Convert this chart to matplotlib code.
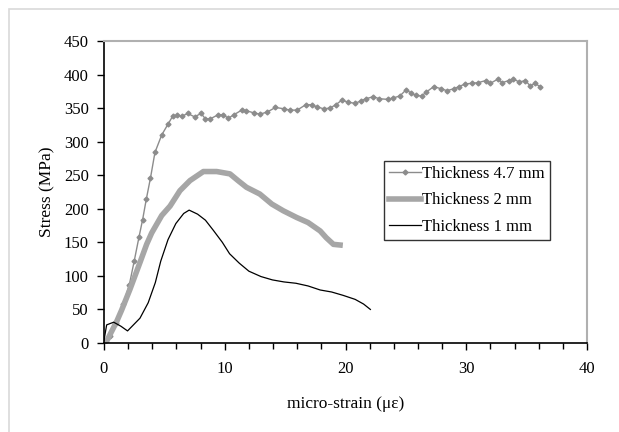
import numpy as np
import matplotlib
matplotlib.use('Agg')
import matplotlib.pyplot as plt
from matplotlib.patches import Rectangle
from matplotlib.ticker import MultipleLocator

plt.rcParams['font.family'] = ['Liberation Serif', 'DejaVu Serif']

# Thickness 4.7 mm
x47 = [0, 0.5, 1.0, 1.6, 2.1, 2.5, 2.9, 3.2, 3.5, 3.85, 4.22, 4.78, 5.33, 5.69,
       6.05, 6.46, 6.93, 7.5, 8.04, 8.4, 8.8, 9.44, 9.86, 10.3, 10.75, 11.4, 11.8,
       12.4, 12.9, 13.5, 14.2, 14.9, 15.4, 16.0, 16.7, 17.2, 17.6, 18.2, 18.7,
       19.2, 19.7, 20.2, 20.8, 21.3, 21.7, 22.3, 22.8, 23.5, 23.9, 24.5, 25.0,
       25.4, 25.8, 26.3, 26.7, 27.3, 27.9, 28.4, 29.0, 29.4, 29.9, 30.5, 31.0,
       31.6, 32.0, 32.6, 33.0, 33.5, 33.9, 34.4, 34.9, 35.3, 35.7, 36.1]
y47 = [0, 10, 30, 58, 87, 122, 158, 184, 214, 246, 284, 310, 327, 338,
       339, 338, 342, 337, 342, 334, 334, 340, 340, 335, 340, 347, 346,
       343, 341, 344, 351, 349, 347, 347, 355, 355, 352, 349, 350,
       355, 362, 359, 357, 361, 364, 367, 364, 363, 365, 368, 377,
       373, 369, 368, 374, 382, 379, 376, 379, 382, 386, 387, 388,
       391, 387, 393, 388, 391, 393, 389, 391, 383, 387, 382]

# Thickness 2 mm
x2 = [0, 0.2, 1.05, 1.46, 2.15, 2.98, 3.53, 3.95, 4.78, 5.47, 6.29, 7.12, 8.23,
      9.33, 10.43, 11.1, 11.8, 12.9, 13.9, 14.85, 15.96, 16.9, 17.9, 18.4, 19.0,
      19.55]
y2 = [0, 2, 32, 49, 80, 120, 147, 164, 190, 204, 227, 242, 255.5,
      255.5, 252, 242, 232, 222, 207, 197, 187, 179.5, 167, 157, 147,
      146]

# Thickness 1 mm
x1 = [0, 0.22, 0.8, 1.4, 1.95, 2.98, 3.66, 4.25, 4.7, 5.3, 5.95, 6.6, 7.05,
      7.75, 8.4, 9.05, 9.8, 10.4, 11.2, 12.0, 13.0, 13.95, 14.9, 15.9, 16.9,
      17.9, 18.85, 19.8, 20.8, 21.5, 22.06]
y1 = [4, 27, 31, 25, 18, 37, 60, 90, 122, 154, 178, 193, 198,
      192, 183, 168, 150, 133, 119, 107, 99, 94, 91, 89, 85,
      79, 76, 71, 65, 58, 50]

fig = plt.figure(figsize=(6.19, 4.32), dpi=100)
# light frame around the chart area (only left and top edges visible)
fig.patches.append(Rectangle((9 / 619, -0.1), 1.0, 1.1 - 9 / 432,
                             transform=fig.transFigure, fill=False,
                             edgecolor='#d9d9d9', linewidth=1.2))
ax = fig.add_axes([104 / 619, 89 / 432, 483 / 619, 302 / 432])

ax.plot(x47, y47, color='#8c8c8c', linewidth=1, marker='D', markersize=2.5,
        label='Thickness 4.7 mm')
ax.plot(x2, y2, color='#a6a6a6', linewidth=4, label='Thickness 2 mm')
ax.plot(x1, y1, color='black', linewidth=0.9, label='Thickness 1 mm')

ax.set_xlim(0, 40)
ax.set_ylim(0, 450)
ax.xaxis.set_major_locator(MultipleLocator(10))
ax.xaxis.set_minor_locator(MultipleLocator(2))
ax.yaxis.set_major_locator(MultipleLocator(50))
ax.tick_params(axis='both', which='major', direction='out', length=5,
               labelsize=12, width=1)
ax.tick_params(axis='x', which='minor', direction='out', length=4, width=1)
ax.tick_params(axis='x', pad=8)
ax.tick_params(axis='y', pad=6)
for s in ['top', 'right']:
    ax.spines[s].set_color('#b0b0b0')
    ax.spines[s].set_linewidth(1.5)
ax.spines['left'].set_linewidth(1.2)
ax.spines['bottom'].set_linewidth(1.2)

ax.set_xlabel('micro-strain (\u03bc\u03b5)', fontsize=12.5, labelpad=14)
ax.set_ylabel('Stress (MPa)', fontsize=12.5, labelpad=6)

leg = ax.legend(loc='upper left', bbox_to_anchor=(0.5797, 0.6026), fontsize=12,
                frameon=True, fancybox=False, edgecolor='black',
                handlelength=1.9, handletextpad=0.1, borderpad=0.3,
                labelspacing=0.62, borderaxespad=0)
leg.get_frame().set_linewidth(1)

fig.savefig('out.png', dpi=100)
